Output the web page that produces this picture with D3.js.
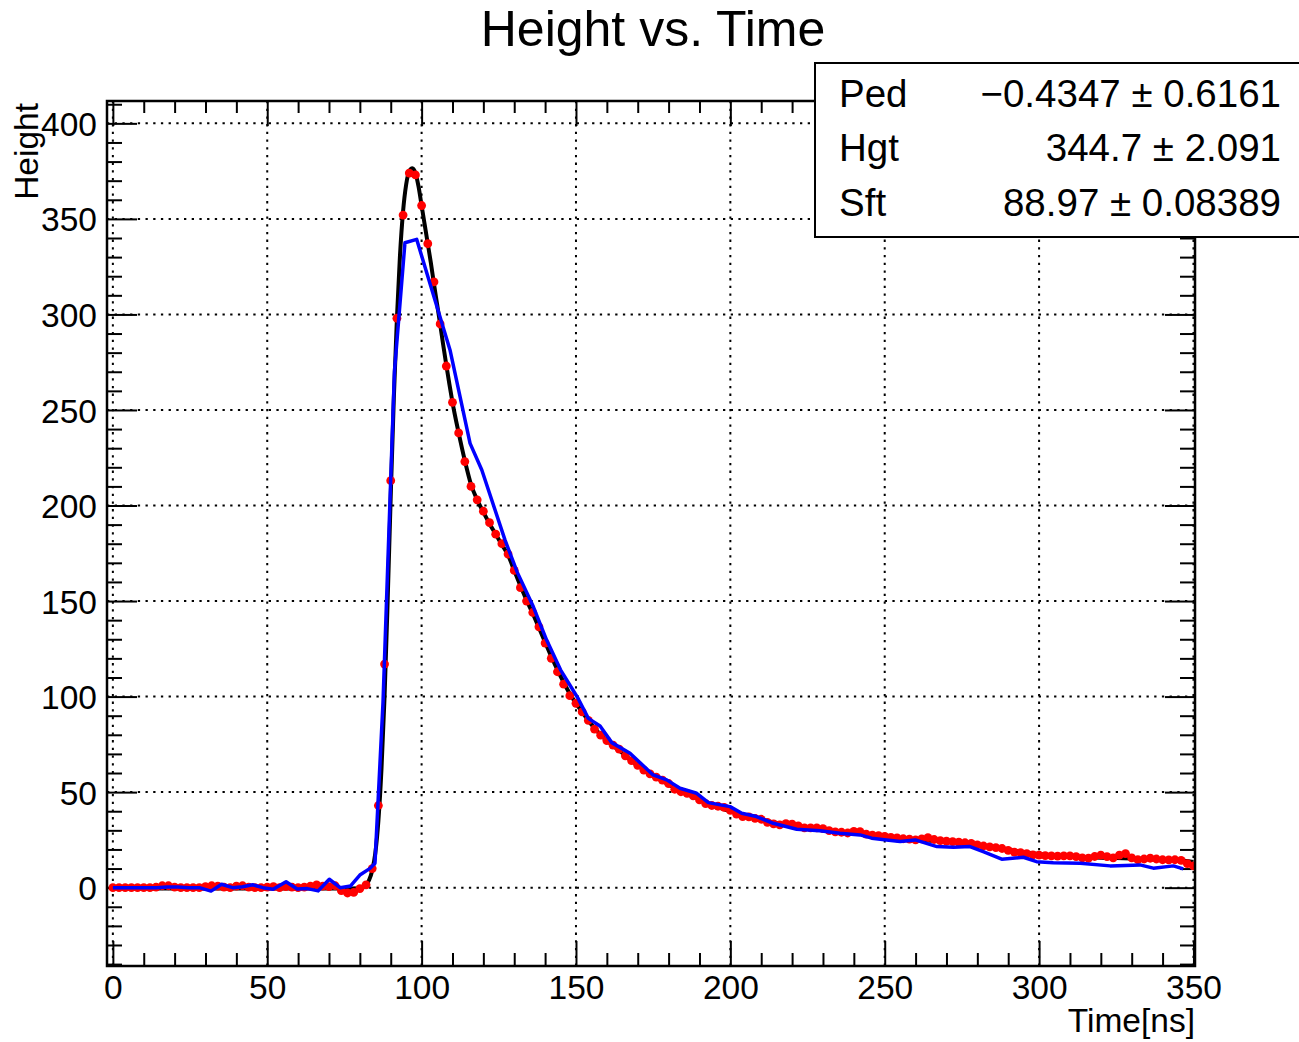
<!DOCTYPE html>
<html><head><meta charset="utf-8">
<script src="https://cdn.jsdelivr.net/npm/d3@7"></script>
<style>
body{margin:0;background:#fff}
text{font-family:"Liberation Sans",Arial,Helvetica,sans-serif;fill:#000}
</style>
</head><body>
<svg id="c" width="1299" height="1042"></svg>
<script>
// ---------- data ----------
const titleText = "Height vs. Time";
const xTitle = "Time[ns]";
const yTitle = "Height";
const xMajor = [0, 50, 100, 150, 200, 250, 300, 350];
const xMinor = [10,20,30,40,60,70,80,90,110,120,130,140,160,170,180,190,210,220,230,240,260,270,280,290,310,320,330,340];
const yMajor = [0, 50, 100, 150, 200, 250, 300, 350, 400];
const yMinor = [-40,-30,-20,-10,10,20,30,40,60,70,80,90,110,120,130,140,160,170,180,190,210,220,230,240,260,270,280,290,310,320,330,340,360,370,380,390,410];

// red measured points (every 2 ns)
const redT = [
  0,2,4,6,8,10,12,14,16,18,
  20,22,24,26,28,30,32,34,36,38,
  40,42,44,46,48,50,52,54,56,58,
  60,62,64,66,68,70,72,74,76,78,
  80,82,84,86,88,90,92,94,96,98,
  100,102,104,106,108,110,112,114,116,118,
  120,122,124,126,128,130,132,134,136,138,
  140,142,144,146,148,150,152,154,156,158,
  160,162,164,166,168,170,172,174,176,178,
  180,182,184,186,188,190,192,194,196,198,
  200,202,204,206,208,210,212,214,216,218,
  220,222,224,226,228,230,232,234,236,238,
  240,242,244,246,248,250,252,254,256,258,
  260,262,264,266,268,270,272,274,276,278,
  280,282,284,286,288,290,292,294,296,298,
  300,302,304,306,308,310,312,314,316,318,
  320,322,324,326,328,330,332,334,336,338,
  340,342,344,346,348,350];
const redV = [
  0,0,0,0,0,0,0,0.3,1,1,
  0.3,0,0,0,0,0.5,1,0.8,0.3,0,
  0.8,1,0.3,0,0,0.3,0.5,0,0.5,0.3,
  0,0.3,0.8,1.5,0.8,0.5,1,-1.5,-2.8,-2.5,
  -0.5,1.5,10,43,117,213,298,352,374,373,
  357,337,317,295,273,254,238,223,210,203,
  197,191,185,180,174.6,166,157,150,144,136.5,
  128,120,113,106.5,100.5,96.5,92,87.5,83,79.8,
  77,74.6,72.5,69,66.5,64,61.5,59.5,57.8,56.3,
  54.5,51.5,50.2,49.3,48,46,44,43,42.6,42,
  40.5,38.5,37.2,37,36.3,35.8,34.2,33.4,32.9,33.5,
  33.3,32.3,31.3,31.3,31.3,30.9,29.8,29.2,29,28.6,
  29.5,29.3,28,27.5,27.2,26.8,26.3,26,25.6,25.4,
  25,25.5,26.2,25.2,24.6,24.3,24.1,23.8,23.5,23.2,
  22.4,21.8,21.3,21,20.5,19.5,18.6,18.3,17.8,17.2,
  17,16.8,16.6,16.5,16.6,16.6,16.2,15.6,15.4,16.3,
  17,16.2,15.6,17,17.8,15.6,14.6,15,15.4,15,
  14.6,14.5,14.6,14.3,12.6,11.4];

// black fit curve
const fitT = [0,80,81,82,83,84,85,86,87,88,89,90,91,92,93,94,95,96,97,98,99,100,101,102,103,104,105,106,107,108,109,110,
  112,114,116,118,120,122,124,126,128,130,132,134,136,138,140,142,144,146,148,150,152,154,156,158,160,162,164,166,168,170,
  172,174,176,178,180,182,184,186,188,190,192,194,196,198,200,205,210,215,220,225,230,235,240,245,250,255,260,265,270,275,
  280,285,290,295,300,305,310,315,320,325,330,335,340,345,350];
const fitV = [-0.4,-0.4,0,1.5,4,9,18,35,62,100,150,205,256,298,331,354,368,375,376.5,374,367,357,347,337,327,316,305.5,295,284,273.5,263.5,254,
  238,223.5,211,203,196.5,190.5,185,179.5,174,166,158,150.5,143.5,136,128.5,121,114,107.5,101.5,96.5,92,87.5,83.5,80,77,74.3,71.8,69.2,66.5,64,
  61.6,59.5,57.6,55.8,54,52.2,50.6,49.2,47.8,46.2,44.6,43.2,42,41,40,37.6,35.6,33.8,32.6,31.4,30.4,29.3,28.5,27.6,26.8,26,25.3,24.6,24,23.3,
  22.4,21.2,19.8,18.6,17.6,16.8,16.3,16,15.7,15.5,15.2,15,14.7,14.3,13.5];

// blue reference waveform
const blueT = [0,3.5,7,10.5,14,17.5,21,24.5,28,31.8,35.2,38.8,42,45.3,48.6,51.9,56.1,59.7,63,66.5,70.1,73.6,77,80,83.3,84.9,87.5,91.2,94.6,98.4,
  109.2,115.7,119.5,127,131,136.2,140.5,145,150.7,154,157.8,161.6,167.5,175,179.4,183.7,189.1,192.9,199.9,203.7,208.5,213.9,221.5,229,235.5,
  242,245.8,250.6,255,259.9,266.9,272.3,277.6,281.9,287.9,294.9,299.2,304.6,313.3,323,332.7,337,343.5,346.7];
const blueV = [0,0,0,0,0,0.3,0.3,0,0,-1.8,1.8,0,0.5,1.5,0,-0.8,3.1,-0.7,-0.5,-1.7,4.4,0,0.9,6.6,10.1,12.8,97,270,337.5,339.3,
  281.4,232.5,218.6,182,165,147,129.6,114,99,88.6,84.6,75.9,70.3,59,56.4,52,49.4,44.5,42.4,38.9,37.2,33.7,30.6,29.8,28.5,
  27.6,25.9,25,24.1,25,21.5,21.1,21.5,18.8,14.9,15.9,13.6,13.1,12.8,11.4,11.9,10.2,11.4,9.8];

const statNames = ["Ped", "Hgt", "Sft"];
const statValues = ["\u22120.4347 \u00b1 0.6161", "344.7 \u00b1 2.091", "88.97 \u00b1 0.08389"];

// ---------- drawing ----------
const svg = d3.select("#c");
const L = 107, R = 1195, T = 101, B = 966;
const x = d3.scaleLinear().domain([-1.9, 350.5]).range([L, R]);
const y = d3.scaleLinear().domain([-41, 411.7]).range([B, T]);

svg.append("rect").attr("width", 1299).attr("height", 1042).attr("fill", "#fff");

svg.append("defs").append("clipPath").attr("id", "clip")
  .append("rect").attr("x", L).attr("y", T).attr("width", R - L).attr("height", B - T);

// grid
const grid = svg.append("g").attr("stroke", "#000").attr("stroke-width", 2).attr("stroke-dasharray", "2.3,5.4");
grid.selectAll(".gx").data(xMajor).join("line")
  .attr("x1", d => x(d)).attr("x2", d => x(d)).attr("y1", T).attr("y2", B);
grid.selectAll(".gy").data(yMajor).join("line")
  .attr("y1", d => y(d)).attr("y2", d => y(d)).attr("x1", L).attr("x2", R);

// axes
function styleAxis(g) {
  g.select(".domain").remove();
  g.selectAll(".tick line").attr("stroke", "#000").attr("stroke-width", 2);
  g.selectAll("text").attr("font-size", 33.5).attr("font-family", '"Liberation Sans",Arial,sans-serif').attr("fill", "#000");
}
svg.append("g").attr("transform", `translate(0,${B})`)
  .call(d3.axisBottom(x).tickValues(xMajor).tickSize(-25).tickPadding(9).tickFormat(d3.format("d"))).call(styleAxis);
svg.append("g").attr("transform", `translate(0,${B})`)
  .call(d3.axisBottom(x).tickValues(xMinor).tickSize(-13).tickFormat("")).call(styleAxis);
svg.append("g").attr("transform", `translate(0,${T})`)
  .call(d3.axisTop(x).tickValues(xMajor).tickSize(-25).tickFormat("")).call(styleAxis);
svg.append("g").attr("transform", `translate(0,${T})`)
  .call(d3.axisTop(x).tickValues(xMinor).tickSize(-12).tickFormat("")).call(styleAxis);
const yl = svg.append("g").attr("transform", `translate(${L},0)`)
  .call(d3.axisLeft(y).tickValues(yMajor).tickSize(-30).tickPadding(10).tickFormat(d3.format("d"))).call(styleAxis);
yl.selectAll("text").attr("dy", "0.36em");
svg.append("g").attr("transform", `translate(${L},0)`)
  .call(d3.axisLeft(y).tickValues(yMinor).tickSize(-15).tickFormat("")).call(styleAxis);
svg.append("g").attr("transform", `translate(${R},0)`)
  .call(d3.axisRight(y).tickValues(yMajor).tickSize(-30).tickFormat("")).call(styleAxis);
svg.append("g").attr("transform", `translate(${R},0)`)
  .call(d3.axisRight(y).tickValues(yMinor).tickSize(-15).tickFormat("")).call(styleAxis);

// series
const plot = svg.append("g").attr("clip-path", "url(#clip)");
const fitData = fitT.map((t, i) => [t, fitV[i]]);
const redData = redT.map((t, i) => [t, redV[i]]);
const blueData = blueT.map((t, i) => [t, blueV[i]]);
const line = d3.line().x(d => x(d[0])).y(d => y(d[1]));
const smooth = d3.line().x(d => x(d[0])).y(d => y(d[1])).curve(d3.curveMonotoneX);

plot.append("path").datum(fitData).attr("d", smooth)
  .attr("fill", "none").attr("stroke", "#000").attr("stroke-width", 4).attr("stroke-linejoin", "round");
plot.selectAll(".pt").data(redData).join("circle")
  .attr("cx", d => x(d[0])).attr("cy", d => y(d[1])).attr("r", 4.4).attr("fill", "#ff0000");
plot.append("path").datum(blueData).attr("d", line)
  .attr("fill", "none").attr("stroke", "#0000ff").attr("stroke-width", 3.5).attr("stroke-linejoin", "round");

// frame
svg.append("rect").attr("x", L).attr("y", T).attr("width", R - L).attr("height", B - T)
  .attr("fill", "none").attr("stroke", "#000").attr("stroke-width", 2.5);

// titles
svg.append("text").attr("x", 653).attr("y", 46).attr("text-anchor", "middle")
  .attr("font-size", 50).text(titleText);
svg.append("text").attr("x", R).attr("y", 1032).attr("text-anchor", "end")
  .attr("font-size", 33.5).text(xTitle);
svg.append("text").attr("transform", `translate(38,${T + 2}) rotate(-90)`).attr("text-anchor", "end")
  .attr("font-size", 33.5).text(yTitle);

// stats box
const sb = svg.append("g");
sb.append("rect").attr("x", 815).attr("y", 63).attr("width", 500).attr("height", 174)
  .attr("fill", "#fff").attr("stroke", "#000").attr("stroke-width", 2);
const rowsY = [107, 161, 216];
sb.selectAll(".sn").data(statNames).join("text")
  .attr("x", 839).attr("y", (d, i) => rowsY[i]).attr("font-size", 38.5).text(d => d);
sb.selectAll(".sv").data(statValues).join("text")
  .attr("x", 1281).attr("y", (d, i) => rowsY[i]).attr("text-anchor", "end").attr("font-size", 38.5)
  .attr("xml:space", "preserve").text(d => d);
</script>
</body></html>
